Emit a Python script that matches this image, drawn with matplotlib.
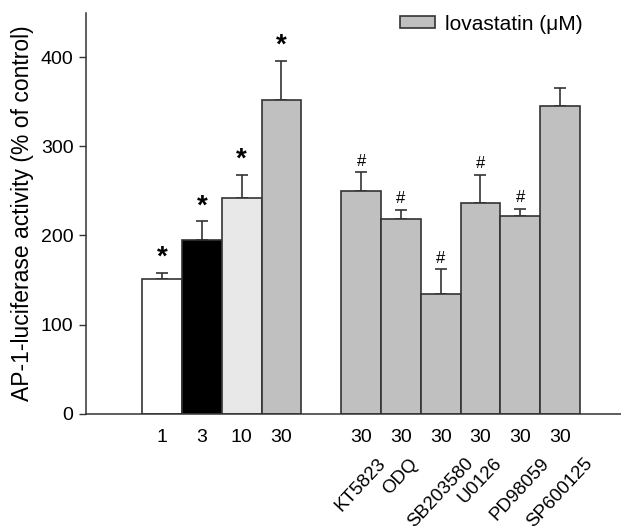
import matplotlib
matplotlib.use("Agg")
import matplotlib.pyplot as plt
from matplotlib.patches import Patch
import numpy as np

plt.rcParams['font.family'] = ['Liberation Sans', 'DejaVu Sans']

# bar data
positions = [0, 1, 2, 3, 5, 6, 7, 8, 9, 10]
doses = ['1', '3', '10', '30', '30', '30', '30', '30', '30', '30']
means = [151, 195, 242, 352, 250, 218, 134, 236, 222, 345]
errors = [7, 21, 26, 44, 21, 11, 28, 32, 8, 21]
marks = ['*', '*', '*', '*', '#', '#', '#', '#', '#', '']
inhibitors = ['KT5823', 'ODQ', 'SB203580', 'U0126', 'PD98059', 'SP600125']
colors = ['white', 'black', '#e8e8e8', '#c0c0c0'] + ['#c0c0c0'] * 6

fig = plt.figure(figsize=(6.21, 5.26), dpi=100)
ax = fig.add_axes([86 / 621, 112.3 / 526, 1 - 86 / 621, 401 / 526])

edge = '#333333'
ax.bar(positions, means, width=1.0, color=colors, edgecolor=edge, linewidth=1.2, zorder=2)
ax.errorbar(positions, means, yerr=[np.zeros(len(errors)), errors], fmt='none',
            ecolor=edge, elinewidth=1.2, capsize=4, capthick=1.2, zorder=1)

# significance marks above the error bars
for x, m, e, s in zip(positions, means, errors, marks):
    if s == '*':
        ax.text(x, m + e + 2, s, ha='center', va='bottom', fontsize=20, fontweight='bold')
    elif s == '#':
        ax.text(x, m + e + 4, s, ha='center', va='bottom', fontsize=12)

ax.set_xlim(-1.91, 11.53)
ax.set_ylim(0, 450)
ax.set_yticks([0, 100, 200, 300, 400])
ax.set_xticks(positions)
ax.set_xticklabels(doses, fontsize=14)
ax.tick_params(axis='x', length=0, pad=11)
ax.tick_params(axis='y', labelsize=14, length=5, width=1, color=edge, pad=4)

for x, name in zip(positions[4:], inhibitors):
    ax.text(x, -0.103, name, transform=ax.get_xaxis_transform(), rotation=47,
            ha='center', va='top', fontsize=13.5)

ax.set_ylabel('AP-1-luciferase activity (% of control)', fontsize=16.5, labelpad=5)

for side in ['top', 'right']:
    ax.spines[side].set_visible(False)
for side in ['left', 'bottom']:
    ax.spines[side].set_color(edge)
    ax.spines[side].set_linewidth(1.1)

handle = Patch(facecolor='#c0c0c0', edgecolor=edge, linewidth=1.2)
ax.legend([handle], ['lovastatin (μM)'], loc='upper left', bbox_to_anchor=(0.587, 0.995),
          frameon=False, fontsize=15, handlelength=1.68, handleheight=0.48,
          handletextpad=0.48, borderpad=0, borderaxespad=0)

fig.savefig('out.png', dpi=100)
